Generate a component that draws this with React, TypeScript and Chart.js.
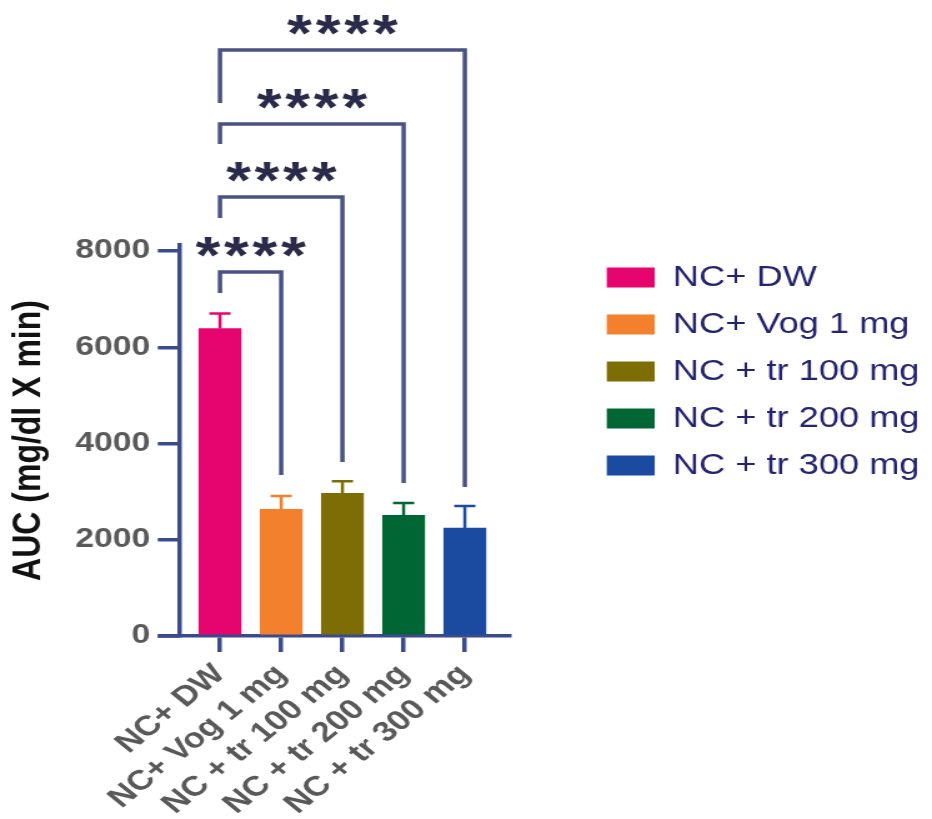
import React, { useEffect, useRef } from 'react';
import { Chart, registerables } from 'chart.js';

Chart.register(...registerables);

// ---------- data ----------
const categories = ['NC+ DW', 'NC+ Vog 1 mg', 'NC + tr 100 mg', 'NC + tr 200 mg', 'NC + tr 300 mg'];
const meanAUC = [6390, 2633, 2965, 2508, 2244];
const errorUpper = [6700, 2909, 3214, 2764, 2701];
const barColors = ['#E6056F', '#F2802C', '#7C6E05', '#006633', '#1B4BA0'];
const yTickValues = [0, 2000, 4000, 6000, 8000];
const yTickLabels = ['0', '2000', '4000', '6000', '8000'];
const yAxisTitle = 'AUC (mg/dl X min)';

// significance comparisons (indices into categories)
const comparisonFrom = [0, 0, 0, 0];
const comparisonTo = [1, 2, 3, 4];
const bracketTop = [7564, 9122, 10639, 12177];
const bracketLeftEnd = [7127, 8686, 10223, 11075];
const bracketRightEnd = [3345, 3616, 3179, 3096];
const bracketLabels = ['****', '****', '****', '****'];

// ---------- style ----------
const LOGICAL_W = 746;
const H = 819;
const DISPLAY_W = 932;
const AXIS_COLOR = '#3A4A8C';
const BRACKET_COLOR = '#4A5283';
const STAR_COLOR = '#2A2A4A';
const TICK_COLOR = '#595959';
const LEGEND_TEXT = '#23236E';
const FONT = "'Liberation Sans', Arial, sans-serif";
const GAP = 59.5;
const STAR_SPACING = 3;

const annotationPlugin = {
  id: 'annotations',
  afterDraw(chart: any) {
    const { ctx, chartArea } = chart;
    const x = chart.scales.x;
    const y = chart.scales.y;
    ctx.save();
    // x axis extension to the left of the y axis
    ctx.strokeStyle = AXIS_COLOR;
    ctx.lineWidth = 3.5;
    ctx.beginPath();
    ctx.moveTo(chartArea.left - 17, y.getPixelForValue(0));
    ctx.lineTo(chartArea.left, y.getPixelForValue(0));
    ctx.stroke();

    // error bars
    ctx.lineWidth = 2.5;
    meanAUC.forEach((v, i) => {
      const px = x.getPixelForValue(i);
      const y0 = y.getPixelForValue(v);
      const y1 = y.getPixelForValue(errorUpper[i]);
      ctx.strokeStyle = barColors[i];
      ctx.beginPath();
      ctx.moveTo(px, y0);
      ctx.lineTo(px, y1);
      ctx.moveTo(px - 8.5, y1);
      ctx.lineTo(px + 8.5, y1);
      ctx.stroke();
    });

    // brackets
    ctx.strokeStyle = BRACKET_COLOR;
    ctx.lineWidth = 3.5;
    ctx.lineJoin = 'miter';
    ctx.font = `bold 51px ${FONT}`;
    (ctx as any).letterSpacing = `${STAR_SPACING}px`;
    ctx.textAlign = 'center';
    ctx.textBaseline = 'alphabetic';
    ctx.fillStyle = STAR_COLOR;
    comparisonFrom.forEach((from, k) => {
      const xl = x.getPixelForValue(from);
      const xr = x.getPixelForValue(comparisonTo[k]);
      const yt = y.getPixelForValue(bracketTop[k]);
      ctx.beginPath();
      ctx.moveTo(xl, y.getPixelForValue(bracketLeftEnd[k]));
      ctx.lineTo(xl, yt);
      ctx.lineTo(xr, yt);
      ctx.lineTo(xr, y.getPixelForValue(bracketRightEnd[k]));
      ctx.stroke();
      const m = ctx.measureText(bracketLabels[k]);
      const cy = yt - 25;
      const off = (m.actualBoundingBoxAscent - m.actualBoundingBoxDescent) / 2;
      ctx.fillText(bracketLabels[k], (xl + xr) / 2 + STAR_SPACING / 2, cy + off);
    });
    ctx.restore();
  },
};

export default function App() {
  const ref = useRef<HTMLCanvasElement>(null);

  useEffect(() => {
    const canvas = ref.current;
    if (!canvas) return;
    Chart.defaults.font.family = FONT;
    const chart = new Chart(canvas, {
      type: 'bar',
      data: {
        datasets: [
          {
            label: 'AUC',
            data: meanAUC.map((v, i) => ({ x: i, y: v })),
            backgroundColor: barColors,
            borderWidth: 0,
            barThickness: 33.6,
            xAxisID: 'x',
            yAxisID: 'y',
          },
        ],
      },
      options: {
        responsive: false,
        animation: false,
        devicePixelRatio: 1,
        layout: { padding: { top: 245, right: 0, bottom: 0, left: 0 } },
        plugins: {
          tooltip: { enabled: false },
          legend: {
            position: 'right',
            align: 'start',
            maxWidth: 320,
            onClick: () => {},
            labels: {
              boxWidth: 38.4,
              boxHeight: 20,
              padding: 18,
              color: LEGEND_TEXT,
              font: { size: 29, family: FONT, weight: 'normal' },
              generateLabels: () =>
                categories.map((c, i) => ({
                  text: c,
                  fillStyle: barColors[i],
                  strokeStyle: barColors[i],
                  lineWidth: 0,
                  hidden: false,
                  index: i,
                  datasetIndex: 0,
                  fontColor: LEGEND_TEXT,
                })),
            },
          },
        },
        scales: {
          x: {
            type: 'linear',
            offset: false,
            min: -0.669,
            max: 4.737,
            z: 1,
            afterBuildTicks: (s: any) => {
              s.ticks = categories.map((_, i) => ({ value: i }));
            },
            afterFit: (s: any) => {
              s.height = 183;
            },
            ticks: {
              autoSkip: false,
              minRotation: 45,
              maxRotation: 45,
              padding: 6,
              color: TICK_COLOR,
              font: { size: 28, weight: 'bold', family: FONT },
              callback: (v: any) => categories[Math.round(Number(v))],
            },
            grid: { offset: false, drawOnChartArea: false, tickLength: 16, color: AXIS_COLOR, lineWidth: 3.5 },
            border: { color: AXIS_COLOR, width: 3.5 },
          },
          y: {
            type: 'linear',
            min: 0,
            max: 8125,
            afterBuildTicks: (s: any) => {
              s.ticks = yTickValues.map((v) => ({ value: v }));
            },
            afterFit: (s: any) => {
              s.width = 143.3;
            },
            ticks: {
              padding: 6,
              color: TICK_COLOR,
              font: { size: 27, weight: 'bold', family: FONT },
              callback: (v: any) => {
                const i = yTickValues.indexOf(Number(v));
                return i >= 0 ? yTickLabels[i] : '';
              },
            },
            grid: { drawOnChartArea: false, tickLength: 17, color: AXIS_COLOR, lineWidth: 3.5 },
            border: { color: AXIS_COLOR, width: 3.5 },
            title: {
              display: true,
              text: yAxisTitle,
              color: '#111111',
              font: { size: 32, weight: 'bold', family: FONT },
            },
          },
          gap: {
            type: 'linear',
            position: 'right',
            display: true,
            grid: { display: false },
            border: { display: false },
            ticks: { display: false },
            afterFit: (s: any) => {
              s.width = GAP;
            },
          },
        },
      } as any,
      plugins: [annotationPlugin],
    });
    return () => chart.destroy();
  }, []);

  return (
    <div style={{ position: 'absolute', left: 0, top: 0, width: DISPLAY_W, height: H, background: '#ffffff' }}>
      <canvas
        ref={ref}
        width={LOGICAL_W}
        height={H}
        style={{ width: `${DISPLAY_W}px`, height: `${H}px`, display: 'block' }}
      />
    </div>
  );
}
